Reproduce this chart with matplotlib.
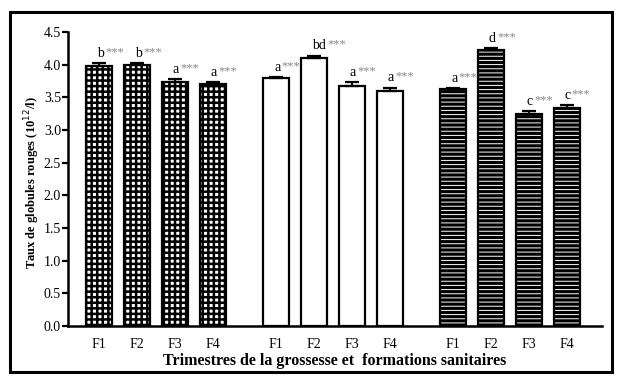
import numpy as np
import matplotlib
matplotlib.use('Agg')
import matplotlib.pyplot as plt
from matplotlib.patches import Rectangle

# valeurs
cats = ['F1', 'F2', 'F3', 'F4']
g1 = [3.98, 3.99, 3.74, 3.71]
g1_err = [0.04, 0.03, 0.04, 0.02]
g2 = [3.79, 4.10, 3.68, 3.60]
g2_err = [0.02, 0.04, 0.05, 0.05]
g3 = [3.62, 4.22, 3.24, 3.33]
g3_err = [0.02, 0.03, 0.05, 0.05]
lettres = [['b', 'b', 'a', 'a'], ['a', 'bd', 'a', 'a'], ['a', 'd', 'c', 'c']]
yticks = [0.0, 0.5, 1.0, 1.5, 2.0, 2.5, 3.0, 3.5, 4.0, 4.5]

plt.rcParams['font.family'] = ['Liberation Serif', 'DejaVu Serif']

fig = plt.figure(figsize=(6.24, 3.85), dpi=100)
ax = fig.add_axes([68/624, 1-326/385, (602-68)/624, (326-32)/385])

pas = 4.68
w = 0.69
x = np.arange(4)
groupes = [(g1, g1_err), (g2, g2_err), (g3, g3_err)]
for k, (vals, errs) in enumerate(groupes):
    xs = x + k*pas
    if k == 0:
        plt.rcParams['hatch.linewidth'] = 1.8
        ax.bar(xs, vals, w, color='white', edgecolor='black', hatch='+++', linewidth=0, zorder=2)
    elif k == 2:
        ax.bar(xs, vals, w, color='black', linewidth=0, zorder=1.5)
        plt.rcParams['hatch.linewidth'] = 0.7
        ax.bar(xs, vals, w, color='none', edgecolor='white', hatch='----', linewidth=0, zorder=2)
    ax.bar(xs, vals, w, color='white' if k == 1 else 'none', edgecolor='black', linewidth=1.6, zorder=3)
    ax.errorbar(xs, vals, yerr=[np.zeros(4), errs], fmt='none', ecolor='black',
                elinewidth=1.4, capsize=5, capthick=1.6, zorder=4)
    for xi, v, e, l in zip(xs, vals, errs, lettres[k]):
        t = ax.text(xi - 0.06, v + e + 0.1, l, ha='left', va='baseline', fontsize=10, color='black')
        ax.annotate('***', xy=(1, 0), xycoords=t, xytext=(0.8, 1), textcoords='offset points',
                    ha='left', va='bottom', fontsize=9, color='#888888')

ax.set_ylim(0, 4.5)
ax.set_xlim(-0.83, 13.29)
ax.set_yticks(yticks)
ax.set_yticklabels(['%.1f' % t for t in yticks], fontsize=10)
ax.set_xticks(np.concatenate([x, x + pas, x + 2*pas]))
ax.set_xticklabels(cats*3, fontsize=10)
ax.tick_params(axis='x', length=0, pad=9)
ax.tick_params(axis='y', length=4, width=1.6, pad=1)
for s in ['top', 'right']:
    ax.spines[s].set_visible(False)
for s in ['left', 'bottom']:
    ax.spines[s].set_linewidth(1.8)

ax.set_xlabel('Trimestres de la grossesse et  formations sanitaires', fontsize=11.5,
              fontweight='bold', labelpad=1)
fig.text(32/624, 1-183/385, 'Taux de globules rouges (10$^{12}$/l)', rotation=90,
         ha='center', va='center', fontsize=9, fontweight='bold')

fig.patches.append(Rectangle((10/624, 1-372/385), 602/624, 360/385, transform=fig.transFigure,
                             fill=False, edgecolor='black', linewidth=2.2))

fig.savefig('out.png', dpi=100)
